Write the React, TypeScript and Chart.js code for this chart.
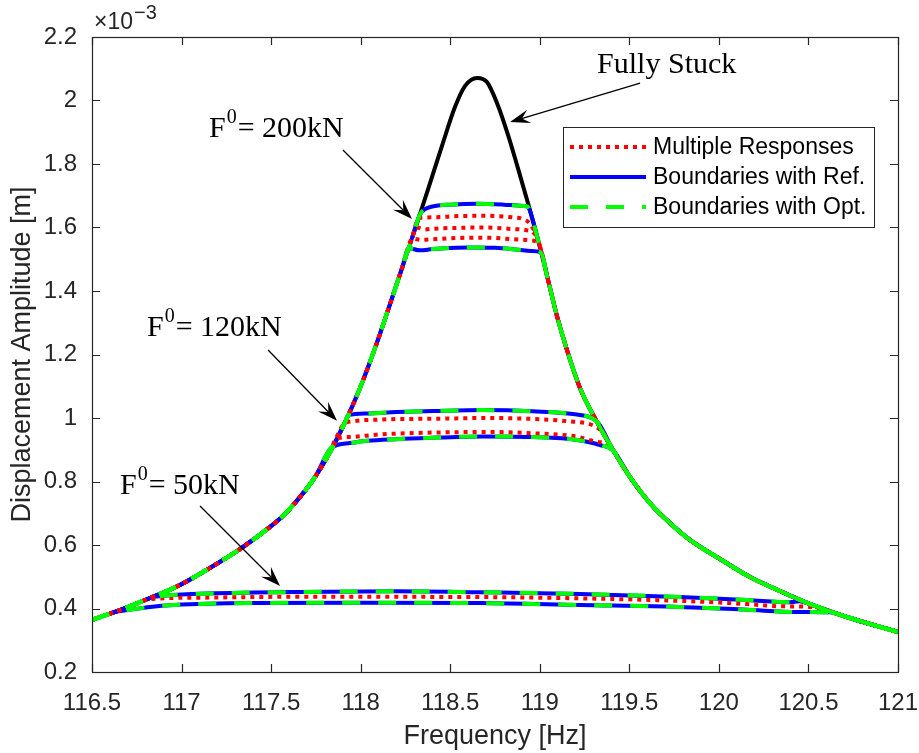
import React, { useEffect, useRef } from "react";
import { Chart, registerables } from "chart.js";

Chart.register(...registerables);

const SANS = "'Liberation Sans', Arial, Helvetica, sans-serif";
const SERIF = "'Liberation Serif', 'Times New Roman', serif";

// Fully stuck response (its flanks are the common outer skirts), amplitude in 1e-3 m
const stuckF = [116.5, 116.656, 116.824, 116.991, 117.159, 117.326, 117.494, 117.578, 117.661, 117.745, 117.829, 117.913, 117.996, 118.08, 118.164, 118.231, 118.287, 118.337, 118.393, 118.454, 118.527, 118.583, 118.65, 118.705, 118.761, 118.823, 118.878, 118.934, 118.99, 119.046, 119.096, 119.152, 119.225, 119.32, 119.409, 119.504, 119.615, 119.727, 119.838, 120.006, 120.174, 120.341, 120.509, 120.732, 121.0];
const stuckV = [0.364, 0.395, 0.433, 0.474, 0.528, 0.587, 0.657, 0.698, 0.751, 0.814, 0.893, 0.987, 1.094, 1.22, 1.359, 1.472, 1.567, 1.652, 1.75, 1.857, 1.98, 2.046, 2.071, 2.058, 1.992, 1.891, 1.787, 1.677, 1.561, 1.435, 1.321, 1.214, 1.094, 0.987, 0.899, 0.814, 0.732, 0.669, 0.616, 0.556, 0.499, 0.455, 0.414, 0.37, 0.326];

// F0 = 50 kN
const up50F = [116.84, 116.9, 116.975, 117.142, 117.645, 118.2, 118.666, 119.225, 119.783, 120.157, 120.397, 120.45];
const up50V = [0.436, 0.44, 0.443, 0.447, 0.452, 0.454, 0.451, 0.446, 0.436, 0.427, 0.42, 0.423];
const lo50F = [116.64, 116.712, 116.824, 116.958, 117.382, 118.0, 118.666, 119.225, 119.783, 120.157, 120.436, 120.62];
const lo50V = [0.39, 0.396, 0.405, 0.411, 0.417, 0.418, 0.417, 0.411, 0.405, 0.396, 0.389, 0.388];
const re50F = [116.835, 117.086, 117.645, 118.666, 119.225, 119.783, 120.157, 120.341, 120.51];
const re50V = [0.43, 0.434, 0.437, 0.436, 0.432, 0.424, 0.414, 0.407, 0.405];

// F0 = 120 kN
const up120F = [117.93, 118.035, 118.2, 118.404, 118.683, 118.962, 119.208, 119.29, 119.33];
const up120V = [1.008, 1.014, 1.019, 1.022, 1.025, 1.021, 1.011, 1.0, 0.982];
const lo120F = [117.84, 117.94, 118.035, 118.404, 118.683, 118.962, 119.208, 119.336, 119.41];
const lo120V = [0.908, 0.921, 0.928, 0.938, 0.942, 0.94, 0.931, 0.915, 0.897];
const re120aF = [117.905, 117.96, 118.1, 118.45, 118.7, 118.96, 119.15, 119.3, 119.35];
const re120aV = [0.98, 0.99, 0.995, 0.998, 1.0, 0.997, 0.99, 0.976, 0.955];
const re120bF = [117.865, 117.94, 118.1, 118.4, 118.7, 118.96, 119.2, 119.336, 119.385];
const re120bV = [0.935, 0.94, 0.948, 0.954, 0.956, 0.952, 0.942, 0.924, 0.92];

// F0 = 200 kN
const up200F = [118.33, 118.36, 118.4, 118.5, 118.65, 118.8, 118.88, 118.925, 118.94];
const up200V = [1.64, 1.658, 1.666, 1.672, 1.675, 1.672, 1.669, 1.667, 1.66];
const lo200F = [118.27, 118.33, 118.4, 118.45, 118.6, 118.75, 118.88, 118.95, 119.005];
const lo200V = [1.535, 1.528, 1.532, 1.534, 1.537, 1.536, 1.53, 1.526, 1.522];
const re200aF = [118.325, 118.4, 118.55, 118.7, 118.85, 118.9, 118.945];
const re200aV = [1.63, 1.632, 1.636, 1.637, 1.632, 1.628, 1.612];
const re200bF = [118.31, 118.36, 118.4, 118.55, 118.7, 118.85, 118.92, 118.968];
const re200bV = [1.6, 1.594, 1.596, 1.599, 1.6, 1.595, 1.592, 1.582];
const re200cF = [118.29, 118.34, 118.4, 118.55, 118.7, 118.85, 118.94, 118.99];
const re200cV = [1.565, 1.561, 1.563, 1.567, 1.568, 1.563, 1.56, 1.552];

const xTicks = [116.5, 117, 117.5, 118, 118.5, 119, 119.5, 120, 120.5, 121];
const yTicks = [0.2, 0.4, 0.6, 0.8, 1, 1.2, 1.4, 1.6, 1.8, 2, 2.2];

const legendLabels = ["Multiple Responses", "Boundaries with Ref.", "Boundaries with Opt."];

// annotation anchors in data units
const notes = [
  { main: "Fully Stuck", sup: "", rest: "", at: [119.32, 2.087], tail: [119.56, 2.055], tip: [118.834, 1.932] },
  { main: "F", sup: "0", rest: "= 200kN", at: [117.153, 1.885], tail: [117.901, 1.844], tip: [118.287, 1.627] },
  { main: "F", sup: "0", rest: "= 120kN", at: [116.807, 1.258], tail: [117.483, 1.214], tip: [117.868, 0.991] },
  { main: "F", sup: "0", rest: "= 50kN", at: [116.656, 0.761], tail: [117.103, 0.723], tip: [117.55, 0.471] },
];

function band(bf: number[], bv: number[]) {
  const pts: { x: number; y: number }[] = [];
  const f0 = bf[0];
  const f1 = bf[bf.length - 1];
  stuckF.forEach((f, i) => {
    if (f < f0 - 0.012) pts.push({ x: f, y: stuckV[i] });
  });
  bf.forEach((f, i) => pts.push({ x: f, y: bv[i] }));
  stuckF.forEach((f, i) => {
    if (f > f1 + 0.012) pts.push({ x: f, y: stuckV[i] });
  });
  return pts;
}

const RED = "#ff0000";
const BLUE = "#0000ff";
const GREEN = "#00ff00";
const RED_DASH = [4, 5];
const GREEN_DASH = [18, 18];

function arrow(ctx: CanvasRenderingContext2D, x0: number, y0: number, x1: number, y1: number) {
  const dx = x1 - x0;
  const dy = y1 - y0;
  const len = Math.hypot(dx, dy);
  const ux = dx / len;
  const uy = dy / len;
  const nx = -uy;
  const ny = ux;
  const L = 20;
  const W = 7;
  ctx.save();
  ctx.strokeStyle = "#000";
  ctx.fillStyle = "#000";
  ctx.lineWidth = 1.3;
  ctx.setLineDash([]);
  ctx.beginPath();
  ctx.moveTo(x0, y0);
  ctx.lineTo(x1 - ux * L * 0.6, y1 - uy * L * 0.6);
  ctx.stroke();
  ctx.beginPath();
  ctx.moveTo(x1, y1);
  ctx.lineTo(x1 - ux * L + nx * W, y1 - uy * L + ny * W);
  ctx.lineTo(x1 - ux * L * 0.62, y1 - uy * L * 0.62);
  ctx.lineTo(x1 - ux * L - nx * W, y1 - uy * L - ny * W);
  ctx.closePath();
  ctx.fill();
  ctx.restore();
}

const decorPlugin = {
  id: "decor",
  afterDatasetsDraw(chart: any) {
    const ctx: CanvasRenderingContext2D = chart.ctx;
    const xs = chart.scales.x;
    const ys = chart.scales.y;
    const { left, right, top, bottom } = chart.chartArea;

    // annotations
    notes.forEach((n) => {
      const tx = xs.getPixelForValue(n.at[0]);
      const ty = ys.getPixelForValue(n.at[1]);
      ctx.save();
      ctx.fillStyle = "#000";
      ctx.textBaseline = "alphabetic";
      ctx.textAlign = "left";
      ctx.font = `30px ${SERIF}`;
      ctx.fillText(n.main, tx, ty);
      let cx = tx + ctx.measureText(n.main).width;
      if (n.sup) {
        ctx.font = `20px ${SERIF}`;
        ctx.fillText(n.sup, cx + 1, ty - 14);
        cx += ctx.measureText(n.sup).width + 2;
        ctx.font = `30px ${SERIF}`;
        ctx.fillText(n.rest, cx, ty);
      }
      ctx.restore();
      arrow(
        ctx,
        xs.getPixelForValue(n.tail[0]),
        ys.getPixelForValue(n.tail[1]),
        xs.getPixelForValue(n.tip[0]),
        ys.getPixelForValue(n.tip[1])
      );
    });

    // axes box and inner ticks
    ctx.save();
    ctx.strokeStyle = "#262626";
    ctx.lineWidth = 1.2;
    ctx.setLineDash([]);
    ctx.strokeRect(left + 0.5, top + 0.5, right - left, bottom - top);
    ctx.beginPath();
    const tl = 8;
    xTicks.forEach((v) => {
      const px = Math.round(xs.getPixelForValue(v)) + 0.5;
      ctx.moveTo(px, bottom);
      ctx.lineTo(px, bottom - tl);
      ctx.moveTo(px, top);
      ctx.lineTo(px, top + tl);
    });
    yTicks.forEach((v) => {
      const py = Math.round(ys.getPixelForValue(v)) + 0.5;
      ctx.moveTo(left, py);
      ctx.lineTo(left + tl, py);
      ctx.moveTo(right, py);
      ctx.lineTo(right - tl, py);
    });
    ctx.stroke();

    // exponent label
    ctx.fillStyle = "#262626";
    ctx.textBaseline = "alphabetic";
    ctx.textAlign = "left";
    ctx.font = `23px ${SANS}`;
    const ex = left + 2;
    const ey = top - 8;
    ctx.fillText("\u00d710", ex, ey);
    const w = ctx.measureText("\u00d710").width;
    ctx.font = `20px ${SANS}`;
    ctx.fillText("\u22123", ex + w + 1, ey - 10);

    // legend
    const bw = 311;
    const bh = 100;
    const bx = right - 24 - bw;
    const by = top + 90;
    ctx.fillStyle = "#fff";
    ctx.fillRect(bx, by, bw, bh);
    ctx.strokeStyle = "#262626";
    ctx.lineWidth = 1;
    ctx.strokeRect(bx + 0.5, by + 0.5, bw, bh);
    const styles = [
      { c: RED, d: RED_DASH },
      { c: BLUE, d: [] as number[] },
      { c: GREEN, d: GREEN_DASH },
    ];
    legendLabels.forEach((lab, i) => {
      const ry = by + 20 + i * 30;
      ctx.beginPath();
      ctx.strokeStyle = styles[i].c;
      ctx.lineWidth = 4;
      ctx.setLineDash(styles[i].d);
      ctx.moveTo(bx + 7, ry);
      ctx.lineTo(bx + 83, ry);
      ctx.stroke();
      ctx.setLineDash([]);
      ctx.fillStyle = "#000";
      ctx.font = `23px ${SANS}`;
      ctx.textBaseline = "middle";
      ctx.fillText(lab, bx + 90, ry + 1);
    });
    ctx.restore();
  },
};

export default function App() {
  const ref = useRef<HTMLCanvasElement>(null);
  useEffect(() => {
    const bounds = [
      band(up50F, up50V),
      band(lo50F, lo50V),
      band(up120F, up120V),
      band(lo120F, lo120V),
      band(up200F, up200V),
      band(lo200F, lo200V),
    ];
    const reds = [
      band(re50F, re50V),
      band(re120aF, re120aV),
      band(re120bF, re120bV),
      band(re200aF, re200aV),
      band(re200bF, re200bV),
      band(re200cF, re200cV),
    ];
    const stuck = stuckF
      .map((f, i) => ({ x: f, y: stuckV[i] }))
      .filter((p) => p.x >= 118.28 && p.x <= 119.0);

    const common = {
      showLine: true,
      pointRadius: 0,
      pointHoverRadius: 0,
      fill: false,
      cubicInterpolationMode: "monotone" as const,
      borderCapStyle: "butt" as const,
      borderJoinStyle: "round" as const,
    };
    const datasets: any[] = [];
    bounds.forEach((d) =>
      datasets.push({ ...common, data: d, borderColor: GREEN, borderWidth: 4, borderDash: GREEN_DASH, order: 1 })
    );
    reds.forEach((d) =>
      datasets.push({ ...common, data: d, borderColor: RED, borderWidth: 4, borderDash: RED_DASH, order: 2 })
    );
    bounds.forEach((d) => datasets.push({ ...common, data: d, borderColor: BLUE, borderWidth: 4, order: 3 }));
    datasets.push({ ...common, data: stuck, borderColor: "#000", borderWidth: 4, order: 4 });

    const fmt = (v: any) => String(Math.round(Number(v) * 10) / 10);

    const chart = new Chart(ref.current as HTMLCanvasElement, {
      type: "scatter",
      data: { datasets },
      options: {
        animation: false,
        responsive: false,
        devicePixelRatio: 1,
        layout: { padding: { top: 37, right: 21, left: 0, bottom: 0 } },
        plugins: { legend: { display: false }, tooltip: { enabled: false } },
        scales: {
          x: {
            type: "linear",
            min: 116.5,
            max: 121,
            afterFit: (s: any) => {
              s.height = 81;
              s.paddingLeft = 0;
              s.paddingRight = 0;
            },
            afterBuildTicks: (s: any) => {
              s.ticks = xTicks.map((v) => ({ value: v }));
            },
            ticks: {
              callback: fmt,
              font: { family: SANS, size: 24 },
              color: "#262626",
              padding: 17,
              maxRotation: 0,
              autoSkip: false,
            },
            grid: { display: false, drawTicks: false },
            border: { display: false },
            title: {
              display: true,
              text: "Frequency [Hz]",
              font: { family: SANS, size: 27 },
              color: "#262626",
              padding: { top: 0, bottom: 0 },
            },
          },
          y: {
            type: "linear",
            min: 0.2,
            max: 2.2,
            afterFit: (s: any) => {
              s.width = 92;
              s.paddingTop = 0;
              s.paddingBottom = 0;
            },
            afterBuildTicks: (s: any) => {
              s.ticks = yTicks.map((v) => ({ value: v }));
            },
            ticks: {
              callback: fmt,
              font: { family: SANS, size: 24 },
              color: "#262626",
              padding: 15,
              autoSkip: false,
            },
            grid: { display: false, drawTicks: false },
            border: { display: false },
            title: {
              display: true,
              text: "Displacement Amplitude [m]",
              font: { family: SANS, size: 27 },
              color: "#262626",
              padding: { top: 6, bottom: 0 },
            },
          },
        },
      },
      plugins: [decorPlugin],
    } as any);
    return () => chart.destroy();
  }, []);

  return (
    <div style={{ position: "fixed", left: 0, top: 0, width: 919, height: 753, background: "#fff" }}>
      <canvas ref={ref} width={919} height={753} style={{ width: 919, height: 753, display: "block" }} />
    </div>
  );
}
